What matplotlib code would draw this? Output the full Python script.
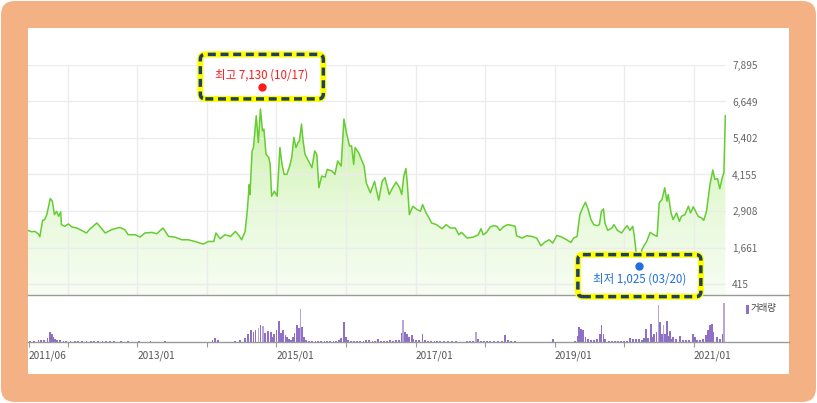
import matplotlib.pyplot as plt
import numpy as np
from matplotlib.patches import FancyBboxPatch, Rectangle
from matplotlib.lines import Line2D
from matplotlib.colors import LinearSegmentedColormap
from matplotlib.transforms import IdentityTransform

plt.rcParams['font.family'] = ['Noto Sans CJK KR', 'DejaVu Sans']

# closing price (decimal year, won)
price_dates = [
    2011.43, 2011.48, 2011.53, 2011.58, 2011.60, 2011.64, 2011.67, 2011.70, 2011.75, 2011.78,
    2011.81, 2011.84, 2011.87, 2011.90, 2011.91, 2011.96, 2012.01, 2012.06, 2012.13, 2012.20,
    2012.27, 2012.32, 2012.42, 2012.46, 2012.54, 2012.63, 2012.75, 2012.82, 2012.87, 2012.97,
    2013.04, 2013.11, 2013.21, 2013.28, 2013.37, 2013.45, 2013.54, 2013.64, 2013.73, 2013.83,
    2013.90, 2013.95, 2014.02, 2014.10, 2014.13, 2014.19, 2014.26, 2014.34, 2014.41, 2014.46,
    2014.50, 2014.55, 2014.58, 2014.61, 2014.62, 2014.65, 2014.67, 2014.71, 2014.74, 2014.77,
    2014.80, 2014.82, 2014.85, 2014.89, 2014.91, 2014.93, 2014.97, 2015.01, 2015.05, 2015.08,
    2015.11, 2015.15, 2015.19, 2015.22, 2015.25, 2015.28, 2015.31, 2015.33, 2015.36, 2015.38,
    2015.41, 2015.46, 2015.51, 2015.55, 2015.58, 2015.61, 2015.65, 2015.70, 2015.73, 2015.80,
    2015.84, 2015.88, 2015.93, 2015.97, 2016.01, 2016.05, 2016.08, 2016.11, 2016.13, 2016.18,
    2016.23, 2016.26, 2016.29, 2016.35, 2016.41, 2016.44, 2016.47, 2016.52, 2016.56, 2016.62,
    2016.67, 2016.72, 2016.77, 2016.80, 2016.83, 2016.86, 2016.88, 2016.91, 2016.96, 2017.02,
    2017.07, 2017.10, 2017.15, 2017.18, 2017.23, 2017.30, 2017.38, 2017.44, 2017.50, 2017.57,
    2017.62, 2017.66, 2017.74, 2017.83, 2017.90, 2017.94, 2017.97, 2018.02, 2018.07, 2018.12,
    2018.17, 2018.21, 2018.26, 2018.32, 2018.38, 2018.43, 2018.45, 2018.53, 2018.60, 2018.67,
    2018.74, 2018.80, 2018.86, 2018.92, 2018.97, 2019.03, 2019.10, 2019.17, 2019.23, 2019.27,
    2019.32, 2019.36, 2019.40, 2019.44, 2019.48, 2019.52, 2019.56, 2019.61, 2019.64, 2019.67,
    2019.70, 2019.72, 2019.76, 2019.82, 2019.85, 2019.90, 2019.96, 2020.01, 2020.04, 2020.08,
    2020.12, 2020.14, 2020.17, 2020.215, 2020.25, 2020.29, 2020.32, 2020.37, 2020.42, 2020.47,
    2020.50, 2020.54, 2020.58, 2020.61, 2020.63, 2020.67, 2020.70, 2020.75, 2020.79, 2020.82,
    2020.87, 2020.92, 2020.95, 2020.99, 2021.03, 2021.06, 2021.11, 2021.14, 2021.18, 2021.23,
    2021.27, 2021.30, 2021.34, 2021.37, 2021.41, 2021.43, 2021.45,
]
price_values = [
    2246, 2200, 2211, 2120, 2030, 2590, 2613, 2785, 3335, 3242,
    2785, 2898, 2727, 2878, 2442, 2384, 2465, 2363, 2328, 2246,
    2157, 2294, 2500, 2384, 2157, 2270, 2349, 2270, 2098, 2098,
    2019, 2157, 2177, 2133, 2328, 2040, 2019, 1926, 1926, 1868,
    1813, 1779, 1868, 1868, 2157, 1961, 2098, 2040, 2211, 2074,
    1926, 2211, 2898, 3816, 3472, 4960, 5076, 6162, 5248, 6392,
    5647, 5705, 4846, 4732, 4502, 3414, 3585, 3414, 5076, 4502,
    4158, 4158, 4444, 4732, 5420, 5076, 5248, 5303, 5877, 5361,
    4846, 4616, 4389, 4960, 4846, 3702, 4100, 4066, 4330, 4273,
    4158, 4616, 4444, 6048, 5533, 5131, 5131, 4502, 5076, 4904,
    4616, 4444, 3874, 3530, 3920, 3585, 3280, 3929, 4046, 3472,
    3702, 3895, 3702, 3472, 4100, 4355, 3874, 2785, 3070, 2957,
    2898, 3128, 2843, 2727, 2500, 2442, 2304, 2442, 2328, 2328,
    2098, 2177, 1984, 2019, 2098, 2304, 2098, 2177, 2363, 2407,
    2384, 2246, 2363, 2442, 2418, 2384, 2064, 1984, 2064, 2040,
    1984, 1720, 1850, 1926, 1813, 2074, 2019, 1926, 1834, 1984,
    2040, 2785, 3015, 3208, 2957, 2613, 2442, 2407, 2442, 2898,
    2980, 2500, 2246, 2328, 2442, 2246, 2157, 2328, 2407, 2246,
    2384, 2098, 1470, 1025, 1583, 1755, 1868, 2177, 2098, 2040,
    3187, 3300, 3702, 3242, 3472, 2843, 2613, 2843, 2555, 2727,
    2785, 3070, 2843, 3050, 2865, 2727, 2670, 2590, 2898, 3816,
    4307, 3987, 4011, 3668, 4080, 4218, 6162,
]

# trading volume (decimal year, relative units)
vol_dates = [
    2011.46, 2011.52, 2011.58, 2011.62, 2011.66, 2011.71, 2011.75, 2011.77, 2011.79, 2011.82,
    2011.85, 2011.89, 2011.94, 2011.98, 2012.04, 2012.10, 2012.15, 2012.21, 2012.27, 2012.33,
    2012.38, 2012.44, 2012.50, 2012.555, 2012.61, 2012.67, 2012.77, 2012.87, 2013.03, 2013.19,
    2013.40, 2013.62, 2013.85, 2013.98, 2014.08, 2014.12, 2014.16, 2014.22, 2014.41, 2014.48,
    2014.55, 2014.59, 2014.63, 2014.67, 2014.70, 2014.77, 2014.84, 2014.88, 2014.92, 2014.95,
    2014.97, 2015.00, 2015.04, 2015.06, 2015.10, 2015.13, 2015.155, 2015.18, 2015.21, 2015.24,
    2015.26, 2015.29, 2015.32, 2015.37, 2015.40, 2015.43, 2015.47, 2015.515, 2015.56, 2015.60,
    2015.64, 2015.69, 2015.73, 2015.77, 2015.82, 2015.86, 2015.90, 2015.93, 2015.97, 2016.00,
    2016.03, 2016.07, 2016.12, 2016.16, 2016.20, 2016.25, 2016.29, 2016.33, 2016.38, 2016.42,
    2016.46, 2016.505, 2016.55, 2016.59, 2016.63, 2016.68, 2016.72, 2016.76, 2016.80, 2016.85,
    2016.88, 2016.91, 2016.95, 2016.97, 2017.01, 2017.05, 2017.10, 2017.14, 2017.18, 2017.22,
    2017.27, 2017.31, 2017.35, 2017.41, 2017.47, 2017.52, 2017.58, 2017.67, 2017.74, 2017.78,
    2017.83, 2017.90, 2017.94, 2017.98, 2018.03, 2018.07, 2018.13, 2018.185, 2018.24, 2018.29,
    2018.33, 2018.37, 2018.43, 2018.50, 2018.645, 2018.79, 2018.90, 2018.97, 2019.03, 2019.15,
    2019.29, 2019.33, 2019.35, 2019.38, 2019.41, 2019.44, 2019.48, 2019.52, 2019.56, 2019.61,
    2019.65, 2019.67, 2019.70, 2019.72, 2019.78, 2019.82, 2019.87, 2019.91, 2019.95, 2020.00,
    2020.04, 2020.08, 2020.12, 2020.17, 2020.21, 2020.25, 2020.28, 2020.31, 2020.34, 2020.38,
    2020.40, 2020.43, 2020.46, 2020.51, 2020.54, 2020.58, 2020.61, 2020.63, 2020.655, 2020.68,
    2020.70, 2020.74, 2020.80, 2020.84, 2020.89, 2020.93, 2020.98, 2021.01, 2021.04, 2021.09,
    2021.13, 2021.17, 2021.20, 2021.23, 2021.26, 2021.28, 2021.33, 2021.37, 2021.41,
]
vol_values = [
    1, 1.5, 2, 2, 2.5, 4, 10, 8, 5, 3,
    2, 2, 1.5, 1.5, 1, 1, 1, 1, 1, 1,
    1, 1, 1, 1, 1, 0.7, 1, 1, 0.7, 0.7,
    0.7, 0.5, 0.5, 0.5, 2, 4, 2, 0.5, 1, 2,
    4, 8, 12, 10, 12, 17, 9, 11, 10, 5,
    8, 12, 21, 9, 12, 7, 5, 3, 2, 5,
    9, 17, 14, 15, 5, 2, 1.5, 1.5, 1.5, 1.5,
    1.5, 1.5, 1, 1.5, 1.5, 1.5, 2, 4, 20, 5,
    2, 1.5, 1.5, 1.5, 1.5, 1, 2, 2.5, 1.5, 1.5,
    3, 1.5, 1.5, 1.5, 2, 1.5, 2, 2.5, 9, 10,
    8, 5, 7, 3, 2, 2, 8, 2.5, 1.5, 1.5,
    1.5, 1, 1.5, 1, 1, 1, 1, 0.5, 1, 1.5,
    1, 3, 1.5, 1.5, 1, 1.5, 1, 1, 1.5, 7,
    2, 1, 1, 0.5, 0.5, 0.5, 0.5, 3, 0.5, 0.5,
    1, 6, 15, 13, 12, 5, 3, 2, 2.5, 3,
    8, 17, 8, 3, 1, 1, 1, 1, 1, 1,
    1.5, 4, 3, 3, 3, 2, 4, 13, 4, 18,
    5, 8, 10, 20, 8, 8, 20.7, 6, 11, 3,
    5, 3, 6, 2, 2, 2, 7.7, 5, 2, 2.5,
    3, 7, 12, 16.7, 18, 10, 5, 3.5, 8,
]
# paler bars
pale_dates = [2014.74, 2014.81, 2015.345, 2016.82, 2017.87, 2020.49, 2020.56, 2021.435]
pale_values = [14, 16, 33, 22, 10, 37, 17, 39]

price_ticks = [415, 1661, 2908, 4155, 5402, 6649, 7895]
grid_years = [2012, 2013, 2014, 2015, 2016, 2017, 2018, 2019, 2020, 2021]
date_ticks = [2011.44, 2012, 2013, 2014, 2015, 2016, 2017, 2018, 2019, 2020, 2021]
date_labels = ['2011/06', '', '2013/01', '', '2015/01', '', '2017/01', '', '2019/01', '', '2021/01']

high_date, high_value, high_label = 2014.79, 7130, '최고 7,130 (10/17)'
low_date, low_value, low_label = 2020.215, 1025, '최저 1,025 (03/20)'

W, H = 817, 403
fig = plt.figure(figsize=(W / 100, H / 100), dpi=100)
fig.patch.set_facecolor('white')
ident = IdentityTransform()

# orange frame and white card
fig.add_artist(FancyBboxPatch((1, 1), W - 2, H - 2, boxstyle='round,pad=0,rounding_size=14',
                              transform=ident, facecolor='#f4b183', edgecolor='none', zorder=-3))
fig.add_artist(Rectangle((28, H - 374), 761, 346, transform=ident,
                         facecolor='white', edgecolor='none', zorder=-2))

ax = fig.add_axes([28 / W, (H - 295) / H, 698 / W, 230 / H])
vax = fig.add_axes([28 / W, (H - 342) / H, 698 / W, 47 / H])
xlim = (2011.43, 2021.46)
ylim = (39, 7895)

# price panel
ax.set_facecolor('none')
poly = ax.fill_between(price_dates, price_values, ylim[0], color='none', lw=0)
cmap = LinearSegmentedColormap.from_list('fillg', ['#f7fdf3', '#e6f9d8', '#c8f0a4'])
img = ax.imshow(np.linspace(0, 1, 256)[:, None], extent=[xlim[0], xlim[1], ylim[0], 6400],
                origin='lower', aspect='auto', cmap=cmap, zorder=1)
img.set_clip_path(poly.get_paths()[0], transform=ax.transData)
ax.plot(price_dates, price_values, color='#66cc33', lw=1.1, zorder=3)
ax.set_xlim(*xlim)
ax.set_ylim(*ylim)
ax.set_xticks(grid_years)
ax.set_yticks(price_ticks)
ax.set_yticklabels([f'{v:,}' for v in price_ticks])
ax.yaxis.tick_right()
ax.tick_params(axis='x', length=0, labelbottom=False)
ax.tick_params(axis='y', length=0, pad=4.5, labelsize=7.3, labelcolor='#666666')
ax.grid(True, color='#ececec', lw=1.0, zorder=0)
for s in ax.spines.values():
    s.set_visible(False)

# volume panel
vax.set_facecolor('none')
vax.bar(vol_dates, vol_values, width=0.026, color='#8f70c6', lw=0)
vax.bar(pale_dates, pale_values, width=0.022, color='#b8a4de', lw=0)
vax.set_xlim(*xlim)
vax.set_ylim(0, 47)
vax.set_yticks([])
vax.set_xticks(date_ticks)
vax.set_xticklabels(date_labels, ha='left')
vax.tick_params(axis='x', length=3.5, width=0.8, color='#999999', pad=2.5,
                labelsize=7.3, labelcolor='#555555')
for s in vax.spines.values():
    s.set_visible(False)

# separators spanning the card
for yy in (295, 342):
    fig.add_artist(Line2D([28, 789], [H - yy, H - yy], transform=ident,
                          color='#9a9a9a', lw=1.0, zorder=2))

# volume legend
fig.add_artist(Rectangle((745.5, H - 313.5), 3, 9, transform=ident,
                         facecolor='#8f70c6', edgecolor='none'))
fig.text(751 / W, 1 - 309 / H, '거래량', ha='left', va='center', fontsize=6.8, color='#444444')


def callout(date, value, label, color, above):
    dx, dy = ax.transData.transform((date, value))
    if above:
        bottom, top = dy - 11.5, dy + 33
        ty = dy + 12
    else:
        bottom, top = dy - 30.5, dy + 11.5
        ty = dy - 12.5
    left, right = dx - 61.5, dx + 61.5
    kw = dict(boxstyle='round,pad=0,rounding_size=5', transform=ident, zorder=5)
    fig.add_artist(FancyBboxPatch((left, bottom), right - left, top - bottom,
                                  facecolor='white', edgecolor='#ffff00', lw=4.4, **kw))
    fig.add_artist(FancyBboxPatch((left, bottom), right - left, top - bottom,
                                  facecolor='none', edgecolor='#1f3f66', lw=2.5,
                                  linestyle=(0, (2.3, 1.35)), **kw))
    fig.add_artist(Line2D([dx], [dy], transform=ident, marker='o', ms=5, color=color,
                          mec=color, lw=0, zorder=6))
    fig.text(dx, ty, label, transform=ident, ha='center', va='center',
             fontsize=8.3, color=color, zorder=7)


callout(high_date, high_value, high_label, '#ff1a1a', True)
callout(low_date, low_value, low_label, '#1f6fe0', False)

fig.savefig('out.png', dpi=100)
